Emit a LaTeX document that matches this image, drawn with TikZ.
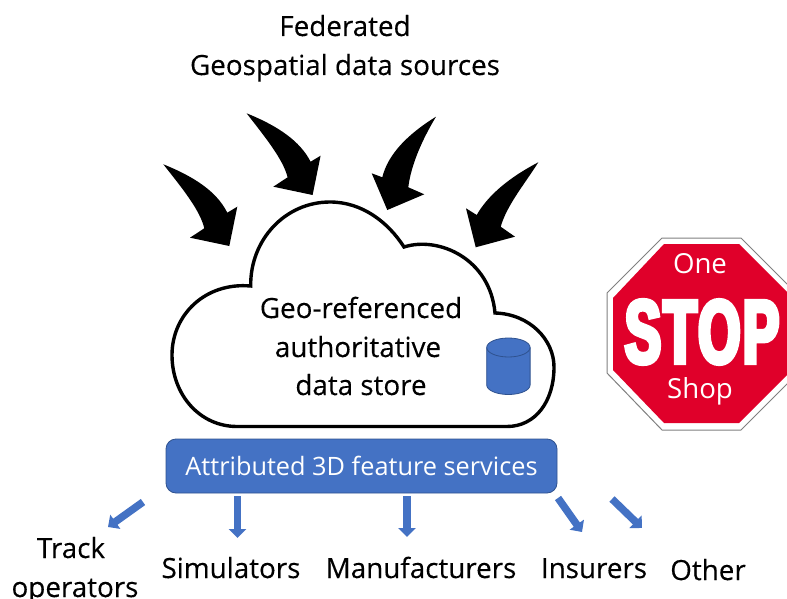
\documentclass[tikz,border=0pt]{standalone}
\usepackage{fontspec}
\setmainfont{Open Sans}
\newfontfamily\lblfont[FakeBold=0.25]{Open Sans}
\newfontfamily\stopfont[FakeStretch=0.6,FakeBold=5,LetterSpace=3]{Liberation Sans Bold}
\usetikzlibrary{arrows.meta}
\definecolor{mblue}{HTML}{4472C4}
\definecolor{mbluedk}{HTML}{2F528F}
\definecolor{stopred}{HTML}{E0002A}
\tikzset{
  lbl/.style={inner sep=0pt,anchor=base,font=\lblfont\fontsize{27.8}{27.8}\selectfont,text=black},
  whitelbl/.style={inner sep=0pt,anchor=base,text=white,font=\fontsize{27.6}{27.6}\selectfont},
  curvearrow/.style={fill=black,draw=none},
  bluearrow/.style={draw=mblue,line width=7.5pt,-{Triangle[width=17pt,length=9pt]}},
  bluebody/.style={fill=mblue,draw=mbluedk,line width=0.8pt},
}
\begin{document}
\begin{tikzpicture}[x=1pt,y=-1pt]
\useasboundingbox (0,0) rectangle (787,599);
\clip (0,0) rectangle (787,599);
% labels top
\node[lbl] (fed) at (345,36) {Federated};
\node[lbl] (geo) at (345,75) {Geospatial data sources};
% curved arrows
\path[curvearrow] (163.3,164.3) .. controls (195,177) and (217,192) .. (227.3,212.7) -- (237.3,206.7) -- (229.3,246) -- (190,237.7) -- (204.3,228.3) .. controls (200,210) and (182,188) .. cycle;
\path[curvearrow] (246.6,113.3) .. controls (278,126) and (300,141) .. (310.6,161.7) -- (320.6,155.7) -- (312.6,195) -- (273.3,186.7) -- (287.6,177.3) .. controls (283,159) and (265,137) .. cycle;
\path[curvearrow] (436,116.7) .. controls (408,134) and (388,154) .. (382.3,177.3) -- (371.7,173.3) -- (387.3,210) -- (424.3,194.3) -- (408.3,187.3) .. controls (411,165) and (422,140) .. cycle;
\path[curvearrow] (538.3,162.3) .. controls (510,177) and (488,195) .. (476.7,215) -- (466,208.3) -- (475.7,247.3) -- (515,236.7) -- (500.7,226.7) .. controls (507,205) and (524,185) .. cycle;
% cloud
\draw[line width=3.4pt,fill=white,line join=miter] (404,247)
  .. controls (388,222) and (362,202) .. (330,202)
  .. controls (285,202) and (250,240) .. (250.7,286)
  .. controls (205,282) and (172,315) .. (172,355)
  .. controls (172,395) and (200,426.5) .. (237,426.5)
  -- (507,426.5)
  .. controls (535,426.5) and (554,402) .. (554,367)
  .. controls (554,340) and (530,314) .. (495,313)
  .. controls (490,258) and (438,236) .. (404,247) -- cycle;
\node[lbl] (t1) at (361,318) {Geo-referenced};
\node[lbl] (t2) at (358,357) {authoritative};
\node[lbl] (t3) at (361,395) {data store};
% cylinder
\path[bluebody] (486.7,347.5) -- (486.7,385) arc[x radius=21.7,y radius=9.5,start angle=180,end angle=0] -- (530.1,347.5) arc[x radius=21.7,y radius=9.5,start angle=0,end angle=-180] -- cycle;
\draw[mbluedk,line width=0.8pt] (486.7,347.5) arc[x radius=21.7,y radius=9.5,start angle=180,end angle=0];
% service bar
\node[bluebody,rounded corners=10pt,minimum width=391pt,minimum height=54pt,inner sep=0pt,text=white,font=\fontsize{25.3}{25.3}\selectfont] (svc) at (361.5,466) {Attributed 3D feature services};
% service arrows
\coordinate (a1s) at (143,502); \coordinate (a1e) at (108,527);
\coordinate (a2s) at (237.5,496); \coordinate (a2e) at (237.5,538);
\coordinate (a3s) at (407,496); \coordinate (a3e) at (407,537);
\coordinate (a4s) at (558,498); \coordinate (a4e) at (582,532);
\coordinate (a5s) at (612,499); \coordinate (a5e) at (642,528);
\draw[bluearrow] (a1s) -- (a1e);
\draw[bluearrow] (a2s) -- (a2e);
\draw[bluearrow] (a3s) -- (a3e);
\draw[bluearrow] (a4s) -- (a4e);
\draw[bluearrow] (a5s) -- (a5e);
\node[lbl] (n1) at (71,558) {Track};
\node[lbl] (n1b) at (75,597) {operators};
\node[lbl] (n2) at (231,578) {Simulators};
\node[lbl] (n3) at (421,578) {Manufacturers};
\node[lbl] (n4) at (594,578) {Insurers};
\node[lbl] (n5) at (708,580) {Other};
% stop sign
\path[fill=white,draw=gray,line width=1pt] (662,238) -- (741,238) -- (796,293) -- (796,375) -- (741,430) -- (662,430) -- (607,373) -- (607,293) -- cycle;
\path[fill=stopred] (664,244) -- (739,244) -- (797,302) -- (797,365) -- (739,423) -- (664,423) -- (613,370) -- (613,298) -- cycle;
\node[inner sep=0pt,text=white,font=\stopfont\fontsize{90}{90}\selectfont] (stop) at (702,332) {STOP};
\node[whitelbl] (one) at (700,273) {One};
\node[whitelbl] (shop) at (700,398) {Shop};
\end{tikzpicture}
\end{document}
